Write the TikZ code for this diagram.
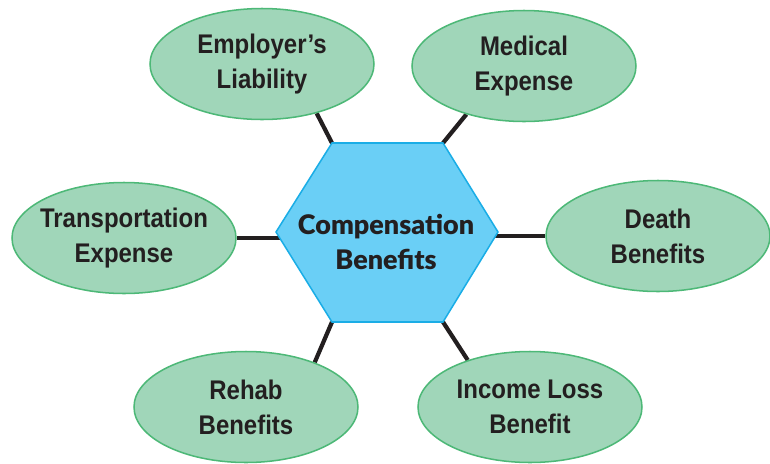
\documentclass[tikz,border=0pt]{standalone}
\usepackage{fontspec}
\setmainfont{Liberation Sans}[FakeStretch=0.89]
\newfontfamily\hubfont{Lato Black}
\usetikzlibrary{shapes.geometric,backgrounds}

\definecolor{leafgreen}{HTML}{A0D6B9}
\definecolor{leafedge}{HTML}{4DB877}
\definecolor{hubblue}{HTML}{6ACFF6}
\definecolor{hubedge}{HTML}{1AADE6}
\definecolor{linkdark}{HTML}{231F20}

\begin{document}
\begin{tikzpicture}[
  x=0.03cm, y=-0.03cm,
  leaf/.style={ellipse, draw=leafedge, fill=leafgreen, line width=1.3pt,
    minimum width=6.72cm, minimum height=3.33cm, inner xsep=-10pt, inner ysep=0pt,
    align=center, text=linkdark, font=\fontsize{23}{30}\selectfont\bfseries},
  hex/.style={draw=hubedge, fill=hubblue, line width=1.3pt, line join=miter},
  hubtext/.style={align=center, text=linkdark, font=\hubfont\fontsize{23}{30}\selectfont},
  link/.style={draw=linkdark, line width=3.6pt}
]
\useasboundingbox (0,0) rectangle (770,463);

% Hub hexagon
\coordinate (hx-w)  at (276,232);
\coordinate (hx-nw) at (332,143);
\coordinate (hx-ne) at (443,143);
\coordinate (hx-e)  at (498,232);
\coordinate (hx-se) at (443,322);
\coordinate (hx-sw) at (332,322);
\draw[hex] (hx-w) -- (hx-nw) -- (hx-ne) -- (hx-e) -- (hx-se) -- (hx-sw) -- cycle;
\node (hub) at (386,242) [hubtext] {Compensation\\Benefits};

% Benefit ellipses
\node (employer) at (262,64) [leaf] {Employer’s\\Liability};
\node (medical) at (524,66) [leaf] {Medical\\Expense};
\node (transport) at (124,238) [leaf] {Transportation\\Expense};
\node (death) at (658,236) [leaf] {Death\\Benefits};
\node (rehab) at (246,407) [leaf] {Rehab\\Benefits};
\node (income) at (530,407) [leaf] {Income Loss\\Benefit};

% Connections
\begin{scope}[on background layer]
  \draw[link] (hx-nw) -- (employer.318);
  \draw[link] (hx-ne) -- (medical.220);
  \draw[link] (transport.east) -- (transport.east -| hub);
  \draw[link] (death.west) -- (death.west -| hub);
  \draw[link] (hx-sw) -- (rehab.33);
  \draw[link] (hx-se) -- (income.143);
\end{scope}

\end{tikzpicture}
\end{document}
